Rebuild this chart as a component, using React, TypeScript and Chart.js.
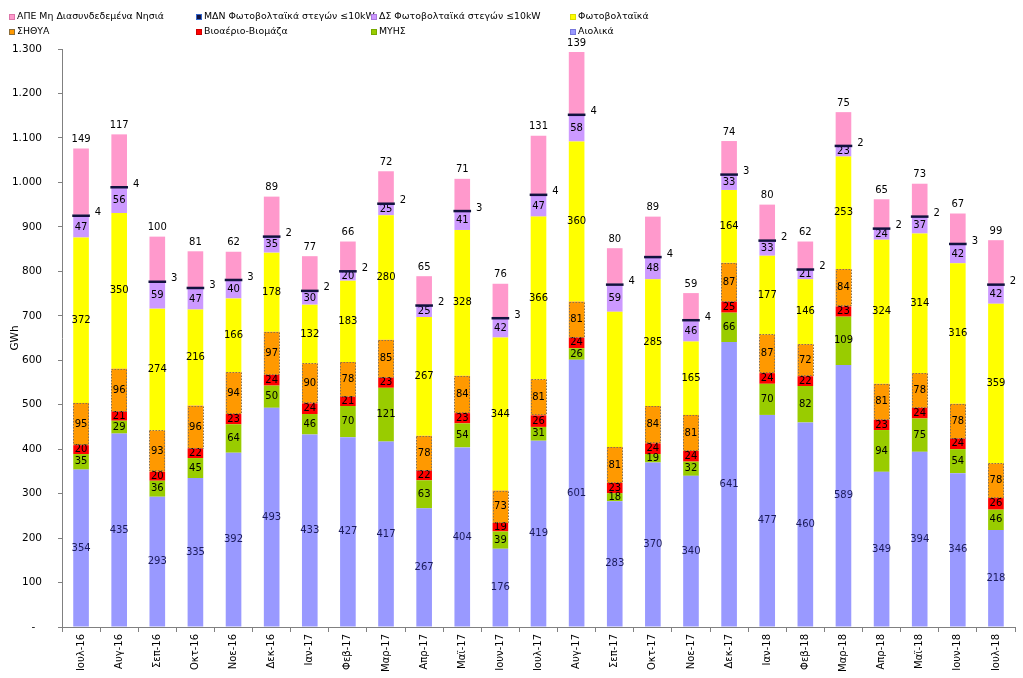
import React, { useEffect, useRef } from "react";
import { Chart, registerables } from "chart.js";

Chart.register(...registerables);

const categories = [
  "Ιουλ-16", "Αυγ-16", "Σεπ-16", "Οκτ-16", "Νοε-16", "Δεκ-16", "Ιαν-17", "Φεβ-17", "Μαρ-17",
  "Απρ-17", "Μαϊ-17", "Ιουν-17", "Ιουλ-17", "Αυγ-17", "Σεπ-17", "Οκτ-17", "Νοε-17", "Δεκ-17",
  "Ιαν-18", "Φεβ-18", "Μαρ-18", "Απρ-18", "Μαϊ-18", "Ιουν-18", "Ιουλ-18",
];

const wind = [354, 435, 293, 335, 392, 493, 433, 427, 417, 267, 404, 176, 419, 601, 283, 370, 340, 641, 477, 460, 589, 349, 394, 346, 218];
const smallHydro = [35, 29, 36, 45, 64, 50, 46, 70, 121, 63, 54, 39, 31, 26, 18, 19, 32, 66, 70, 82, 109, 94, 75, 54, 46];
const biomass = [20, 21, 20, 22, 23, 24, 24, 21, 23, 22, 23, 19, 26, 24, 23, 24, 24, 25, 24, 22, 23, 23, 24, 24, 26];
const chp = [95, 96, 93, 96, 94, 97, 90, 78, 85, 78, 84, 73, 81, 81, 81, 84, 81, 87, 87, 72, 84, 81, 78, 78, 78];
const pv = [372, 350, 274, 216, 166, 178, 132, 183, 280, 267, 328, 344, 366, 360, 304, 285, 165, 164, 177, 146, 253, 324, 314, 316, 359];
const roofPvInterconnected = [47, 56, 59, 47, 40, 35, 30, 20, 25, 25, 41, 42, 47, 58, 59, 48, 46, 33, 33, 21, 23, 24, 37, 42, 42];
const roofPvIslands = [4, 4, 3, 3, 3, 2, 2, 2, 2, 2, 3, 3, 4, 4, 4, 4, 4, 3, 2, 2, 2, 2, 2, 3, 2];
const resIslands = [149, 117, 100, 81, 62, 89, 77, 66, 72, 65, 71, 76, 131, 139, 80, 89, 59, 74, 80, 62, 75, 65, 73, 67, 99];
// labels that are not shown in the reference (PV value of Σεπ-17 is estimated)
const pvLabelShown = categories.map((c) => c !== "Σεπ-17");

const yTicks = [0, 100, 200, 300, 400, 500, 600, 700, 800, 900, 1000, 1100, 1200, 1300];

const FONT = '"DejaVu Sans", Verdana, sans-serif';

type DS = { key: string; label: string; data: number[]; color: string; legendBorder: string };

const series: DS[] = [
  { key: "wind", label: "Αιολικά", data: wind, color: "#9999FF", legendBorder: "#7777dd" },
  { key: "hydro", label: "ΜΥΗΣ", data: smallHydro, color: "#99CC00", legendBorder: "#77aa00" },
  { key: "bio", label: "Βιοαέριο-Βιομάζα", data: biomass, color: "#FF0000", legendBorder: "#cc0000" },
  { key: "chp", label: "ΣΗΘΥΑ", data: chp, color: "#FF9900", legendBorder: "#8a6d3b" },
  { key: "pv", label: "Φωτοβολταϊκά", data: pv, color: "#FFFF00", legendBorder: "#dddd00" },
  { key: "ds", label: "ΔΣ Φωτοβολταϊκά στεγών ≤10kW", data: roofPvInterconnected, color: "#CC99FF", legendBorder: "#aa77dd" },
  { key: "mdn", label: "ΜΔΝ Φωτοβολταϊκά στεγών ≤10kW", data: roofPvIslands, color: "#12123F", legendBorder: "#3366cc" },
  { key: "isl", label: "ΑΠΕ Μη Διασυνδεδεμένα Νησιά", data: resIslands, color: "#FF99CC", legendBorder: "#dd77aa" },
];

const labelPlugin = {
  id: "valueLabels",
  afterDatasetsDraw(chart: any) {
    const ctx = chart.ctx as CanvasRenderingContext2D;
    ctx.save();
    ctx.font = `10px ${FONT}`;
    ctx.textBaseline = "middle";
    chart.data.datasets.forEach((ds: any, di: number) => {
      const meta = chart.getDatasetMeta(di);
      const key = series[di].key;
      meta.data.forEach((el: any, i: number) => {
        const { x, y, base, width } = el.getProps(["x", "y", "base", "width"], true);
        const v = ds.data[i];
        const top = Math.min(y, base);
        const bot = Math.max(y, base);
        const mid = (top + bot) / 2;
        if (key === "chp") {
          ctx.save();
          ctx.strokeStyle = "#8a7250";
          ctx.lineWidth = 1;
          ctx.setLineDash([1.5, 1.5]);
          ctx.strokeRect(Math.round(x - width / 2) + 0.5, Math.round(top) + 0.5, Math.round(width) - 1, Math.round(bot - top) - 1);
          ctx.restore();
        }
        if (key === "mdn") {
          ctx.save();
          ctx.strokeStyle = "#12123F";
          ctx.lineWidth = 2.5;
          ctx.beginPath();
          ctx.moveTo(x - width / 2 - 1, mid);
          ctx.lineTo(x + width / 2 + 1, mid);
          ctx.stroke();
          ctx.restore();
          ctx.fillStyle = "#000";
          ctx.textAlign = "left";
          ctx.fillText(String(v), x + width / 2 + 6, mid - 3);
          return;
        }
        ctx.textAlign = "center";
        if (key === "isl") {
          ctx.fillStyle = "#000";
          ctx.fillText(String(v), x, top - 9);
          return;
        }
        if (key === "pv" && !pvLabelShown[i]) return;
        ctx.fillStyle = key === "wind" ? "#1a1a5a" : "#000";
        ctx.fillText(String(v), x, mid);
      });
    });
    ctx.restore();
  },
};

const legendPlugin = {
  id: "gridLegend",
  afterDraw(chart: any) {
    const ctx = chart.ctx as CanvasRenderingContext2D;
    const colX = [9, 196, 371, 570];
    const rowY = [17, 32];
    const items = [...series].reverse();
    ctx.save();
    ctx.font = `9.4px ${FONT}`;
    ctx.textBaseline = "middle";
    ctx.textAlign = "left";
    items.forEach((s, i) => {
      const cx = colX[i % 4];
      const cy = rowY[Math.floor(i / 4)];
      ctx.fillStyle = s.color;
      ctx.fillRect(cx, cy - 3, 6, 6);
      ctx.strokeStyle = s.legendBorder;
      ctx.lineWidth = 1;
      ctx.strokeRect(cx + 0.5, cy - 2.5, 5, 5);
      ctx.fillStyle = "#000";
      ctx.fillText(s.label, cx + 8, cy);
    });
    ctx.restore();
  },
};

export default function App() {
  const ref = useRef<HTMLCanvasElement | null>(null);
  useEffect(() => {
    if (!ref.current) return;
    const chart = new Chart(ref.current, {
      type: "bar",
      data: {
        labels: categories,
        datasets: series.map((s) => ({
          label: s.label,
          data: s.data,
          backgroundColor: s.key === "mdn" ? "rgba(0,0,0,0)" : s.color,
          borderWidth: 0,
          barPercentage: 0.41,
          categoryPercentage: 1,
        })),
      },
      options: {
        animation: false,
        responsive: true,
        maintainAspectRatio: false,
        layout: { padding: { top: 49, right: 8, bottom: 0, left: 0 } },
        plugins: { legend: { display: false }, tooltip: { enabled: false } },
        scales: {
          x: {
            stacked: true,
            grid: { display: true, drawOnChartArea: false, drawTicks: true, tickLength: 5, color: "#808080", offset: true },
            border: { display: true, color: "#808080" },
            ticks: { autoSkip: false, maxRotation: 90, minRotation: 90, padding: 2, color: "#000", font: { family: FONT, size: 10 } },
            afterFit: (scale: any) => { scale.height = 51; },
          },
          y: {
            stacked: true,
            min: 0,
            max: 1300,
            afterBuildTicks: (scale: any) => { scale.ticks = yTicks.map((v) => ({ value: v })); },
            grid: { display: true, drawOnChartArea: false, drawTicks: true, tickLength: 4, color: "#808080" },
            border: { display: true, color: "#808080" },
            ticks: {
              padding: 16,
              color: "#000",
              font: { family: FONT, size: 10.5 },
              callback: (v: any) => (Number(v) === 0 ? "-  " : Number(v).toLocaleString("de-DE")),
            },
            title: { display: true, text: "GWh", color: "#000", font: { family: FONT, size: 10.5 }, padding: { top: 9, bottom: 0 } },
            afterFit: (scale: any) => { scale.width = 62; },
          },
        },
      },
      plugins: [labelPlugin, legendPlugin],
    });
    return () => chart.destroy();
  }, []);
  return (
    <div style={{ position: "absolute", left: 0, top: 0, width: 1023, height: 678, background: "#fff" }}>
      <canvas ref={ref} />
    </div>
  );
}
